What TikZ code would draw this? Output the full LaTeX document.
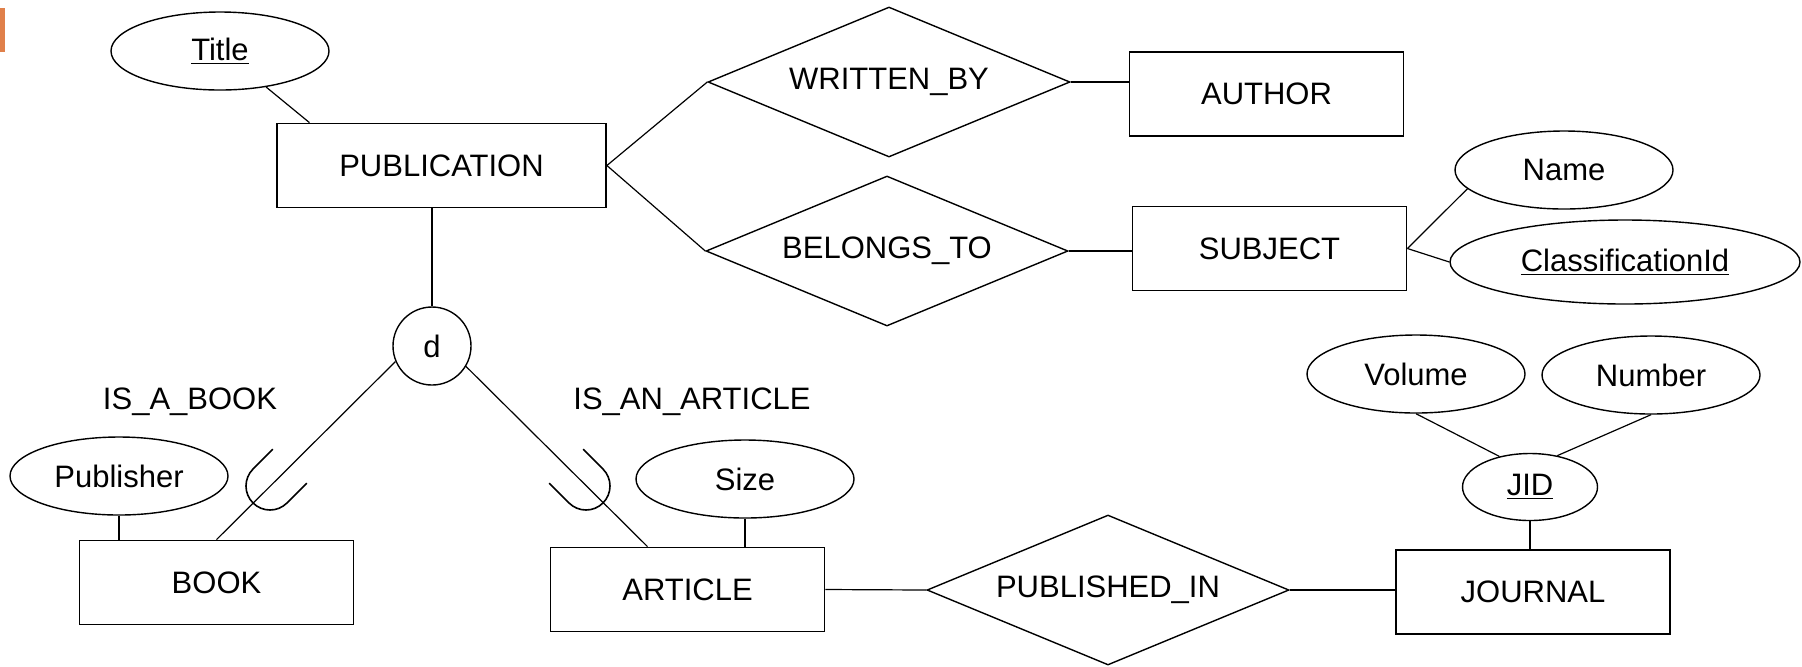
\documentclass[tikz,border=0pt]{standalone}
\usepackage{fontspec}
\setmainfont{Liberation Sans}
\usetikzlibrary{shapes.geometric}

\definecolor{markorange}{RGB}{224,128,74}
\newcommand{\erfont}{\fontsize{15.5}{18}\selectfont}

\tikzset{
    entity/.style={draw, line width=0.9pt, inner sep=0pt, minimum width=137pt, minimum height=42pt, font=\erfont},
    attr/.style={draw, ellipse, line width=0.7pt, inner sep=0pt, minimum width=109pt, minimum height=39pt, font=\erfont},
    rel/.style={draw, diamond, shape aspect=2.4, line width=0.7pt, inner sep=0pt, minimum width=181pt, minimum height=75pt, font=\erfont},
    disj/.style={draw, circle, line width=0.7pt, inner sep=0pt, minimum size=39pt, font=\erfont},
    role/.style={font=\erfont},
    link/.style={line width=0.6pt},
    subsetcup/.style={line width=0.8pt}
}

\begin{document}
\begin{tikzpicture}[x=0.5pt,y=0.5pt,yscale=-1,xscale=1]
        \path[use as bounding box] (0,0) rectangle (1802,666);
        \fill[markorange] (0,8) rectangle (5,52);

        % Text Node
        \node[entity, minimum width=164.5pt] (pub) at (441.5,165.5) {PUBLICATION};
        \node[entity] (author) at (1266.5,94) {AUTHOR};
        \node[entity] (subject) at (1269.5,248.5) {SUBJECT};
        \node[entity] (book) at (216.5,582.5) {BOOK};
        \node[entity] (article) at (687.5,589.5) {ARTICLE};
        \node[entity] (journal) at (1533,592) {JOURNAL};
        % Text Node
        \node[rel] (writtenby) at (889,82) {WRITTEN\_BY};
        \node[rel] (belongsto) at (887,251) {BELONGS\_TO};
        \node[rel] (publishedin) at (1108,590) {PUBLISHED\_IN};
        % Text Node
        \node[attr] (title) at (220,51) {\underline{Title}};
        \node[attr] (name) at (1564,170) {Name};
        \node[attr, minimum width=175pt, minimum height=42pt] (classid) at (1625,262) {\underline{ClassificationId}};
        \node[attr] (volume) at (1416,374) {Volume};
        \node[attr] (number) at (1651,375) {Number};
        \node[attr, minimum width=67.5pt, minimum height=33.5pt] (jid) at (1530,487) {\underline{JID}};
        \node[attr] (publisher) at (119,476) {Publisher};
        \node[attr] (size) at (745,479) {Size};
        % Text Node
        \node[disj] (disjoint) at (432,346) {d};
        \node[role] (isabook) at (190,402) {IS\_A\_BOOK};
        \node[role] (isanarticle) at (692,402) {IS\_AN\_ARTICLE};

        % Connection
        \draw[link] (title.-38) -- (pub.162);
        \draw[link] (pub.east) -- (writtenby.west);
        \draw[link] (pub.east) -- (belongsto.west);
        \draw[link] (writtenby.east) -- (writtenby.east -| author.west);
        \draw[link] (belongsto.east) -- (belongsto.east -| subject.west);
        \draw[link] (subject.east) -- (name.191);
        \draw[link] (subject.east) -- (classid.west);
        % Connection
        \draw[link] (volume.south) -- (jid.135);
        \draw[link] (number.south) -- (jid.49);
        \draw[link] (jid.south) -- (jid.south |- journal.north);
        \draw[link] (publishedin.east) -- (publishedin.east -| journal.west);
        \draw[link] (article.east) -- (publishedin.west);
        \draw[link] (size.south) -- (size.south |- article.north);
        \draw[link] (publisher.south) -- (publisher.south |- book.north);
        % Connection
        \draw[link] (disjoint.north |- pub.south) -- (disjoint.north);
        \draw[link] (disjoint.203) -- (book.north);
        \draw[link] (disjoint.-31) -- (article.133);

        % Subset marks
        \coordinate (cupbook) at (270,486);
        \coordinate (cuparticle) at (586,486);
        \draw[subsetcup, shift={(cupbook)}, rotate=-45] (28,24) -- (0,24) arc (90:270:24) -- (28,-24);
        \draw[subsetcup, shift={(cuparticle)}, rotate=-135] (28,24) -- (0,24) arc (90:270:24) -- (28,-24);

\end{tikzpicture}
\end{document}
